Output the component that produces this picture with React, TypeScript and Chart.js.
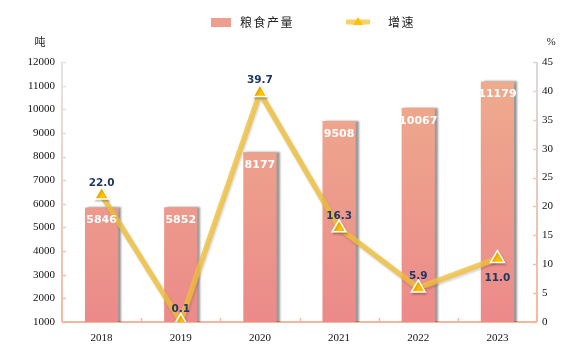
import React, { useEffect, useRef } from "react";
import { Chart, registerables } from "chart.js";

Chart.register(...registerables);

const categories = ["2018", "2019", "2020", "2021", "2022", "2023"];
const production = [5846, 5852, 8177, 9508, 10067, 11179];
const growth = [22.0, 0.1, 39.7, 16.3, 5.9, 11.0];
const growthLabels = ["22.0", "0.1", "39.7", "16.3", "5.9", "11.0"];
const seriesNames = ["粮食产量", "增速"];
const leftUnit = "吨";
const rightUnit = "%";

const CHART_LEFT = 62;
const CHART_RIGHT = 537;
const CHART_TOP = 62;
const CHART_BOTTOM = 322;
const W = 580;
const H = 354;

const decorPlugin = {
  id: "decor",
  beforeDatasetDraw(chart: any, args: any) {
    if (args.index === 0) {
      const ctx = chart.ctx;
      ctx.save();
      ctx.shadowColor = "rgba(0,0,0,0.4)";
      ctx.shadowOffsetX = 3;
      ctx.shadowOffsetY = 0;
      ctx.shadowBlur = 2;
    }
    if (args.index === 1) {
      const ctx = chart.ctx;
      ctx.save();
      ctx.shadowColor = "rgba(0,0,0,0.18)";
      ctx.shadowOffsetX = 1;
      ctx.shadowOffsetY = 2;
      ctx.shadowBlur = 2;
    }
  },
  afterDatasetDraw(chart: any, args: any) {
    if (args.index === 0 || args.index === 1) chart.ctx.restore();
  },
  beforeDatasetsDraw(chart: any) {
    const ctx = chart.ctx;
    const a = chart.chartArea;
    const yL = chart.scales.y;
    const yR = chart.scales.y1;
    const x = chart.scales.x;
    ctx.save();
    let g = ctx.createLinearGradient(0, a.top, 0, a.bottom);
    g.addColorStop(0, "#E4E4E4");
    g.addColorStop(1, "#F5B9A0");
    ctx.strokeStyle = g;
    ctx.lineWidth = 2;
    ctx.beginPath();
    ctx.moveTo(a.left, a.top);
    ctx.lineTo(a.left, a.bottom);
    ctx.stroke();
    ctx.lineWidth = 1.5;
    yL.ticks.forEach((t: any) => {
      const py = Math.round(yL.getPixelForValue(t.value)) + 0.5;
      ctx.beginPath();
      ctx.moveTo(a.left, py);
      ctx.lineTo(a.left + 4, py);
      ctx.stroke();
    });
    g = ctx.createLinearGradient(0, a.top, 0, a.bottom);
    g.addColorStop(0, "#DADADA");
    g.addColorStop(1, "#F5B9A0");
    ctx.strokeStyle = g;
    ctx.lineWidth = 2;
    ctx.beginPath();
    ctx.moveTo(a.right, a.top);
    ctx.lineTo(a.right, a.bottom);
    ctx.stroke();
    ctx.lineWidth = 1.5;
    yR.ticks.forEach((t: any) => {
      const py = Math.round(yR.getPixelForValue(t.value)) + 0.5;
      ctx.beginPath();
      ctx.moveTo(a.right, py);
      ctx.lineTo(a.right - 4, py);
      ctx.stroke();
    });
    ctx.strokeStyle = "#F5B79C";
    ctx.lineWidth = 2;
    ctx.beginPath();
    ctx.moveTo(a.left, a.bottom);
    ctx.lineTo(a.right, a.bottom);
    ctx.stroke();
    ctx.lineWidth = 1.5;
    const n = categories.length;
    for (let i = 1; i < n; i++) {
      const px = Math.round((x.getPixelForValue(i - 1) + x.getPixelForValue(i)) / 2) + 0.5;
      ctx.beginPath();
      ctx.moveTo(px, a.bottom);
      ctx.lineTo(px, a.bottom - 4);
      ctx.stroke();
    }
    ctx.restore();
  },
  afterDatasetsDraw(chart: any) {
    const ctx = chart.ctx;
    ctx.save();
    ctx.textAlign = "center";
    ctx.textBaseline = "middle";
    ctx.font = "bold 11px 'DejaVu Sans', Verdana, sans-serif";
    ctx.fillStyle = "#FFFFFF";
    const barMeta = chart.getDatasetMeta(0);
    barMeta.data.forEach((el: any, i: number) => {
      ctx.fillText(String(production[i]), el.x, el.y + 13);
    });
    ctx.font = "bold 10.5px 'DejaVu Sans', Verdana, sans-serif";
    ctx.fillStyle = "#1F3864";
    const lineMeta = chart.getDatasetMeta(1);
    lineMeta.data.forEach((el: any, i: number) => {
      const dy = i === categories.length - 1 ? 20 : -12;
      ctx.fillText(growthLabels[i], el.x, el.y + dy);
    });
    ctx.font = "11px 'Noto Sans CJK SC', sans-serif";
    ctx.fillStyle = "#222";
    ctx.fillText(leftUnit, 40, 42);
    ctx.font = "11px 'Liberation Serif', serif";
    ctx.fillText(rightUnit, 551, 42);
    ctx.fillStyle = "#EE9E8E";
    ctx.fillRect(211, 18, 20, 9);
    ctx.textAlign = "left";
    ctx.fillStyle = "#222";
    ctx.font = "12px 'Noto Sans CJK SC', sans-serif";
    const drawSpaced = (s: string, x0: number, y0: number, sp: number) => {
      let cx = x0;
      for (const ch of s) {
        ctx.fillText(ch, cx, y0);
        cx += ctx.measureText(ch).width + sp;
      }
    };
    drawSpaced(seriesNames[0], 240, 22, 1.5);
    ctx.strokeStyle = "rgba(246,205,90,0.9)";
    ctx.lineWidth = 5;
    ctx.beginPath();
    ctx.moveTo(346, 22);
    ctx.lineTo(370, 22);
    ctx.stroke();
    ctx.fillStyle = "#FFC000";
    ctx.beginPath();
    ctx.moveTo(358, 17);
    ctx.lineTo(363, 25);
    ctx.lineTo(353, 25);
    ctx.closePath();
    ctx.fill();
    ctx.fillStyle = "#222";
    drawSpaced(seriesNames[1], 388, 22, 1.5);
    ctx.restore();
  },
};

export default function App() {
  const ref = useRef<HTMLCanvasElement | null>(null);
  useEffect(() => {
    document.body.style.margin = "0";
    const canvas = ref.current!;
    const ctx = canvas.getContext("2d")!;
    const grad = ctx.createLinearGradient(0, CHART_TOP, 0, CHART_BOTTOM);
    grad.addColorStop(0, "#EEAD8D");
    grad.addColorStop(1, "#EC8A8A");
    const tickFont = { family: "'Liberation Serif', serif", size: 11 };
    const chart = new Chart(canvas, {
      type: "bar",
      data: {
        labels: categories,
        datasets: [
          {
            type: "bar",
            label: seriesNames[0],
            data: production,
            backgroundColor: grad,
            borderWidth: 0,
            barPercentage: 0.42,
            categoryPercentage: 1,
            yAxisID: "y",
            order: 2,
          } as any,
          {
            type: "line",
            label: seriesNames[1],
            data: growth,
            borderColor: "rgba(240,192,60,0.8)",
            borderWidth: 5.5,
            tension: 0,
            pointStyle: "triangle",
            pointRadius: 8,
            pointBackgroundColor: "#FFC000",
            pointBorderColor: "#FFFFFF",
            pointBorderWidth: 1.5,
            yAxisID: "y1",
            order: 1,
          } as any,
        ],
      },
      options: {
        responsive: false,
        animation: false,
        events: [],
        layout: { padding: { top: CHART_TOP, left: 0, right: 0, bottom: 0 } },
        plugins: { legend: { display: false }, tooltip: { enabled: false } },
        scales: {
          x: {
            grid: { display: false, drawTicks: false },
            border: { display: false },
            ticks: { padding: 10, color: "#111", font: tickFont },
            afterFit: (s: any) => {
              s.height = H - CHART_BOTTOM;
            },
          },
          y: {
            position: "left",
            min: 1000,
            max: 12000,
            grid: { display: false, drawTicks: false },
            border: { display: false },
            ticks: {
              stepSize: 1000,
              padding: 7,
              color: "#111",
              font: tickFont,
              callback: (v: any) => String(v),
            },
            afterFit: (s: any) => {
              s.width = CHART_LEFT;
            },
          },
          y1: {
            position: "right",
            min: 0,
            max: 45,
            grid: { display: false, drawTicks: false },
            border: { display: false },
            ticks: {
              stepSize: 5,
              padding: 5,
              color: "#111",
              font: tickFont,
              callback: (v: any) => String(v),
            },
            afterFit: (s: any) => {
              s.width = W - CHART_RIGHT;
            },
          },
        },
      },
      plugins: [decorPlugin],
    });
    return () => chart.destroy();
  }, []);
  return (
    <div style={{ width: W, height: H }}>
      <canvas ref={ref} width={W} height={H} style={{ display: "block" }} />
    </div>
  );
}
